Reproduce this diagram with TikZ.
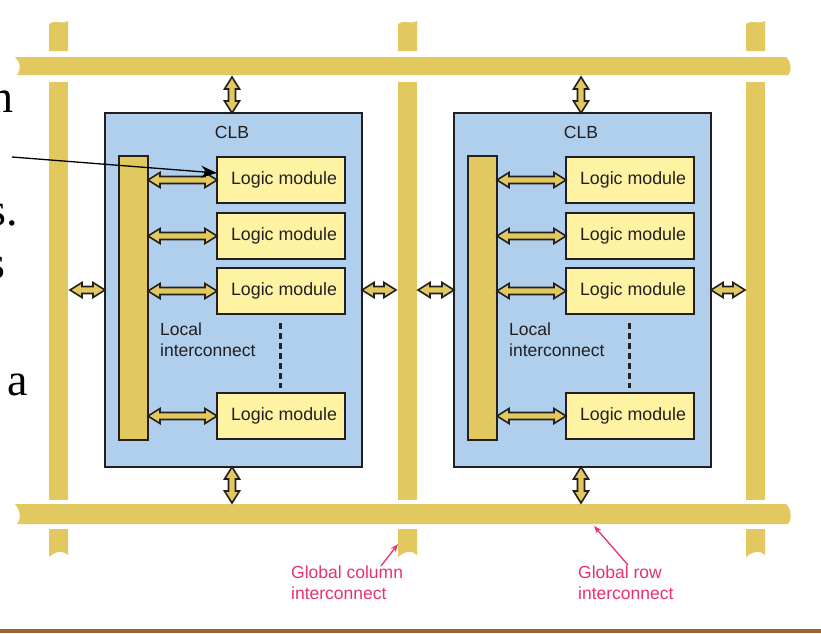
\documentclass[tikz,border=0pt]{standalone}
\usepackage{fontspec}
\setmainfont{Liberation Serif}
\newfontfamily\lsans{Liberation Sans}
\usetikzlibrary{arrows.meta,calc}
\definecolor{gold}{HTML}{E2C95F}
\definecolor{clbblue}{HTML}{AFCFEC}
\definecolor{modyellow}{HTML}{FEF3A2}
\definecolor{pinkred}{HTML}{E8326E}
\definecolor{brownline}{HTML}{9C6530}
\definecolor{ink}{HTML}{231F20}
\tikzset{
 clbbox/.style={draw=ink, line width=2pt, fill=clbblue, inner sep=0pt, outer sep=0pt, minimum width=257pt, minimum height=354pt, anchor=north west},
 localbar/.style={draw=ink, line width=2pt, fill=gold, inner sep=0pt, outer sep=0pt, minimum width=29pt, minimum height=284pt, anchor=north west},
 logicbox/.style={draw=ink, line width=2.2pt, fill=modyellow, inner sep=0pt, outer sep=0pt, minimum width=128pt, minimum height=46pt, anchor=north west, text=ink, font=\lsans\fontsize{17.8}{21}\selectfont},
 lbl/.style={font=\lsans\fontsize{17.5}{21}\selectfont, inner sep=0pt, text=ink},
 pinklbl/.style={lbl, text=pinkred, align=left, anchor=north west},
 blockarr/.style={draw=ink, line width=1.6pt, fill=gold, line join=miter},
 pinkarr/.style={draw=pinkred, line width=1.3pt, -{Stealth[length=8pt,width=6pt]}},
 ptrarr/.style={draw=black, line width=1.3pt, -{Stealth[length=16pt,width=12pt]}},
 bigserif/.style={font=\fontsize{46}{50}\selectfont, inner sep=0pt, anchor=base west},
}
\newcommand{\lm}{\hspace*{6pt}Logic module}
\newcommand{\harr}[2]{\path[blockarr] let \p1=#1, \p2=#2 in
  (\x1,\y1) -- ({\x1+12pt},{\y1+7.5pt}) -- ({\x1+12pt},{\y1+3.5pt}) -- ({\x2-12pt},{\y1+3.5pt})
  -- ({\x2-12pt},{\y1+7.5pt}) -- (\x2,\y1) -- ({\x2-12pt},{\y1-7.5pt}) -- ({\x2-12pt},{\y1-3.5pt})
  -- ({\x1+12pt},{\y1-3.5pt}) -- ({\x1+12pt},{\y1-7.5pt}) -- cycle;}
\newcommand{\varr}[2]{\path[blockarr] let \p1=#1, \p2=#2 in
  (\x1,\y1) -- ({\x1+7.5pt},{\y1-12pt}) -- ({\x1+3.5pt},{\y1-12pt}) -- ({\x1+3.5pt},{\y2+12pt})
  -- ({\x1+7.5pt},{\y2+12pt}) -- (\x1,\y2) -- ({\x1-7.5pt},{\y2+12pt}) -- ({\x1-3.5pt},{\y2+12pt})
  -- ({\x1-3.5pt},{\y1-12pt}) -- ({\x1-7.5pt},{\y1-12pt}) -- cycle;}
\begin{document}
\begin{tikzpicture}[x=1pt,y=-1pt]
\useasboundingbox (0,0) rectangle (821,633);
\fill[white] (0,0) rectangle (821,633);
% bottom brown rule
\fill[brownline] (0,629) rectangle (821,633);
% global columns
\foreach \cx in {49,398,746}{
  \fill[gold] (\cx,24) .. controls +(5,-5) and +(-7,4) .. (\cx+19,21) -- (\cx+19,51) -- (\cx,51) -- cycle;
  \fill[gold] (\cx,82) rectangle (\cx+19,500);
  \fill[gold] (\cx,529) -- (\cx+19,529) -- (\cx+19,555) .. controls +(-5,-5) and +(7,-6) .. (\cx,557) -- cycle;
}
% global rows
\fill[gold] (15,57) -- (786,57) .. controls (790,60) and (793,70) .. (788,75) -- (17,75) .. controls (22,68) and (20,62) .. (15,57) -- cycle;
\fill[gold] (15,504) -- (786,504) .. controls (790,507) and (793,518) .. (788,524) -- (17,524) .. controls (22,517) and (20,510) .. (15,504) -- cycle;

% CLBs
\node[clbbox] (clb1) at (105,113) {};
\node[clbbox] (clb2) at (454,113) {};
\node[lbl] (clbl1) at (232,132) {CLB};
\node[lbl] (clbl2) at (581,132) {CLB};
% local interconnect bars
\node[localbar] (lb1) at (119,156) {};
\node[localbar] (lb2) at (468,156) {};
% logic modules
\node[logicbox] (m11) at (217,157) {\lm};
\node[logicbox] (m12) at (217,213) {\lm};
\node[logicbox] (m13) at (217,268) {\lm};
\node[logicbox] (m14) at (217,393) {\lm};
\node[logicbox] (m21) at (566,157) {\lm};
\node[logicbox] (m22) at (566,213) {\lm};
\node[logicbox] (m23) at (566,268) {\lm};
\node[logicbox] (m24) at (566,393) {\lm};
% labels
\node[lbl, align=left, anchor=north west] (loc1) at (160,323) {Local\\interconnect};
\node[lbl, align=left, anchor=north west] (loc2) at (509,323) {Local\\interconnect};
% dashed continuation
\draw[ink, line width=3pt, dash pattern=on 6pt off 4pt] ($(m13.south)+(-1,9)$) -- ($(m14.north)+(-1,-5)$);
\draw[ink, line width=3pt, dash pattern=on 6pt off 4pt] ($(m23.south)+(-1,9)$) -- ($(m24.north)+(-1,-5)$);

% local arrows
\foreach \k in {1,2,3,4}{
  \harr{(lb1.east |- m1\k.west)}{(m1\k.west)}
  \harr{(lb2.east |- m2\k.west)}{(m2\k.west)}
}
% side arrows
\coordinate (sl) at (70,290);
\coordinate (sm1) at (396,290);
\coordinate (sm2) at (418,290);
\coordinate (sr) at (745,290);
\harr{(sl)}{(clb1.west)}
\harr{(clb1.east)}{(sm1)}
\harr{(sm2)}{(clb2.west)}
\harr{(clb2.east)}{(sr)}
% vertical arrows
\coordinate (t1) at (232,77);
\coordinate (t2) at (581,77);
\coordinate (b1) at (232,503);
\coordinate (b2) at (581,503);
\varr{(t1)}{(t1 |- clb1.north)}
\varr{(t2)}{(t2 |- clb2.north)}
\varr{(b1 |- clb1.south)}{(b1)}
\varr{(b2 |- clb2.south)}{(b2)}

% pink labels
\node[pinklbl] (gcol) at (291,566) {Global column\\interconnect};
\node[pinklbl] (grow) at (578,566) {Global row\\interconnect};
\coordinate (pc1) at (381,566);
\coordinate (pc2) at (398,544);
\coordinate (pr1) at (628,565);
\coordinate (pr2) at (594,526);
\draw[pinkarr] (pc1) -- (pc2);
\draw[pinkarr] (pr1) -- (pr2);

% slide text fragments
\node[bigserif] (f1) at (-10,112) {n};
\node[bigserif] (f2) at (-12,225) {s.};
\node[bigserif] (f3) at (-13,278) {s};
\node[bigserif] (f4) at (7,395) {a};
% pointer
\coordinate (ptr) at (12,157);
\draw[ptrarr] (ptr) -- ([yshift=7pt]m11.west);
\end{tikzpicture}
\end{document}
